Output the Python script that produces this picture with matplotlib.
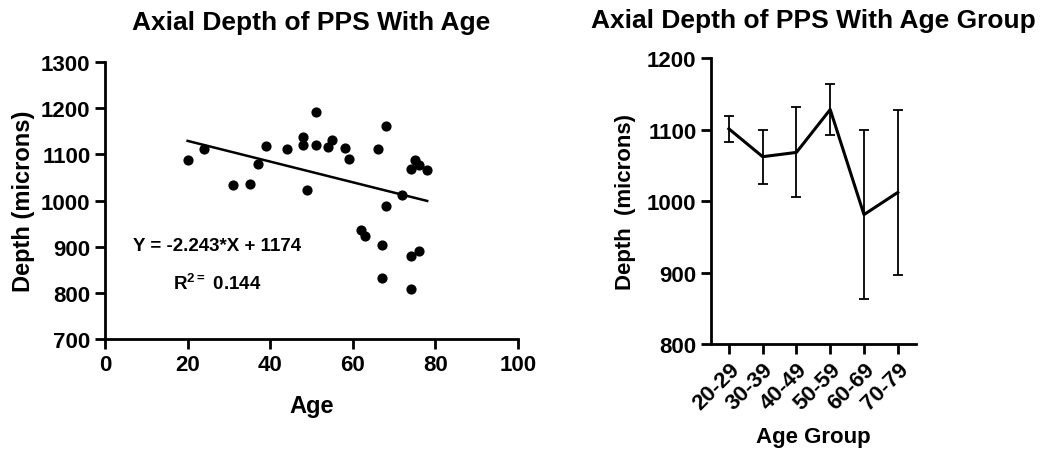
import numpy as np
import matplotlib
matplotlib.use("Agg")
import matplotlib.pyplot as plt

plt.rcParams['font.family'] = ['Liberation Sans', 'DejaVu Sans']
plt.rcParams['font.weight'] = 'bold'
plt.rcParams['mathtext.fontset'] = 'custom'
plt.rcParams['mathtext.bf'] = 'Liberation Sans:bold'
plt.rcParams['mathtext.rm'] = 'Liberation Sans:bold'

# scatter data: age vs axial depth
age = [20, 24, 31, 35, 37, 39, 44, 48, 48, 49, 51, 51, 54, 55, 58, 59,
       62, 63, 66, 67, 67, 68, 68, 72, 74, 74, 74, 75, 76, 76, 78]
depth = [1087, 1112, 1033, 1035, 1078, 1119, 1111, 1137, 1121, 1022, 1191, 1121, 1116, 1131, 1113, 1089,
         936, 923, 1111, 904, 832, 1161, 989, 1013, 1069, 879, 809, 1088, 1076, 890, 1066]
slope = -2.243
intercept = 1174

# age group means and error bars
groups = ['20-29', '30-39', '40-49', '50-59', '60-69', '70-79']
group_mean = [1101, 1062, 1068, 1128, 981, 1012]
group_err = [18, 38, 63, 35, 118, 115]

fig = plt.figure(figsize=(10.44, 4.52), dpi=100)

ax1 = fig.add_axes([0.1006, 0.2478, 0.3956, 0.6128])
ax1.scatter(age, depth, s=40, color='black', zorder=3)
xf = np.array([min(age), max(age)])
ax1.plot(xf, slope * xf + intercept, color='black', lw=1.8)
ax1.set_xlim(0, 100)
ax1.set_ylim(700, 1300)
ax1.set_xticks([0, 20, 40, 60, 80, 100])
ax1.set_yticks(range(700, 1301, 100))
ax1.set_xlabel('Age', fontsize=17, fontweight='bold', labelpad=14)
ax1.set_ylabel('Depth (microns)', fontsize=17, fontweight='bold', labelpad=4)
ax1.set_title('Axial Depth of PPS With Age', fontsize=19, fontweight='bold', pad=24)
ax1.text(6.8, 902, 'Y = -2.243*X + 1174', fontsize=13.5, fontweight='bold', va='center')
ax1.text(16.5, 823, r'R$^{\mathbf{2=}}$ 0.144', fontsize=13.5, fontweight='bold', va='center')

ax2 = fig.add_axes([0.681, 0.2367, 0.1964, 0.6327])
xi = np.arange(len(groups))
ax2.errorbar(xi, group_mean, yerr=group_err, color='black', lw=2.2,
             ecolor='black', elinewidth=1.3, capsize=3.5, capthick=1.3)
ax2.set_xlim(-0.53, 5.54)
ax2.set_ylim(800, 1200)
ax2.set_yticks(range(800, 1201, 100))
ax2.set_xticks(xi)
ax2.set_xticklabels(groups, rotation=45, ha='right', rotation_mode='anchor')
ax2.set_xlabel('Age Group', fontsize=16, fontweight='bold', labelpad=9)
ax2.set_ylabel('Depth  (microns)', fontsize=16, fontweight='bold', labelpad=8)
ax2.set_title('Axial Depth of PPS With Age Group', fontsize=19, fontweight='bold', pad=22)

for ax in (ax1, ax2):
    for side in ('top', 'right'):
        ax.spines[side].set_visible(False)
    for side in ('left', 'bottom'):
        ax.spines[side].set_linewidth(2)
    ax.tick_params(direction='out', width=2, length=7, labelsize=16)
    for lab in ax.get_xticklabels() + ax.get_yticklabels():
        lab.set_fontweight('bold')

fig.savefig('out.png', dpi=100)
